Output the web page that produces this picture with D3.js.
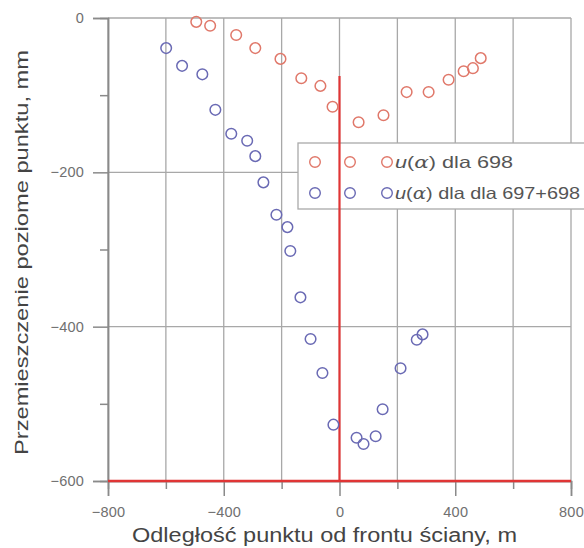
<!DOCTYPE html>
<html>
<head>
<meta charset="utf-8">
<script src="https://cdn.jsdelivr.net/npm/d3@7"></script>
<style>
  body { margin: 0; background: #fff; }
  svg { font-family: "Liberation Sans", Arial, sans-serif; }
</style>
</head>
<body>
<svg width="584" height="548"></svg>
<script>
// data
var xs698 = [-495, -447, -357, -291, -204, -132, -66, -24, 66, 152, 232, 308, 377, 429, 461, 488];
var ys698 = [-5, -10, -22, -39, -53, -78, -88, -115, -135, -126, -96, -96, -80, -69, -65, -52];
var xsBoth = [-599, -544, -474, -429, -374, -319, -291, -263, -218, -180, -170, -135, -100, -59, -21, 59, 83, 125, 149, 211, 267, 287];
var ysBoth = [-39, -62, -73, -119, -150, -159, -179, -213, -255, -271, -302, -362, -416, -460, -527, -544, -552, -542, -507, -454, -417, -410];
var xTicks = [-800, -400, 0, 400, 800];
var xMinor = [-600, -200, 200, 600];
var yTicks = [0, -200, -400, -600];
var yMinor = [-100, -300, -500];
var seriesNames = ["dla 698", "dla dla 697+698"];

var svg = d3.select("svg");
var margin = {top: 18, left: 108};
var width = 463, height = 463;

var x = d3.scaleLinear().domain([-800, 800]).range([0, width]);
var y = d3.scaleLinear().domain([-600, 0]).range([height, 0]);

var g = svg.append("g").attr("transform", "translate(" + margin.left + "," + margin.top + ")");

// grid
g.selectAll(".vgrid").data(xTicks.concat(xMinor)).enter().append("line")
  .attr("x1", function(d) { return x(d); }).attr("x2", function(d) { return x(d); })
  .attr("y1", 0).attr("y2", height)
  .attr("stroke", "#a8a8a8").attr("stroke-width", 1.3);
g.selectAll(".hgrid").data(yTicks).enter().append("line")
  .attr("x1", 0).attr("x2", width)
  .attr("y1", function(d) { return y(d); }).attr("y2", function(d) { return y(d); })
  .attr("stroke", "#a8a8a8").attr("stroke-width", 1.3);

// axes
g.append("g").attr("transform", "translate(0," + height + ")")
  .call(d3.axisBottom(x).tickValues(xTicks).tickSize(15).tickPadding(11).tickFormat(d3.format("d")));
g.append("g").attr("transform", "translate(0," + height + ")")
  .call(d3.axisBottom(x).tickValues(xMinor).tickSize(8).tickFormat(""));
g.append("g")
  .call(d3.axisLeft(y).tickValues(yTicks).tickSize(15).tickPadding(9).tickFormat(d3.format("d")));
g.append("g")
  .call(d3.axisLeft(y).tickValues(yMinor).tickSize(8).tickFormat(""));
g.selectAll(".domain").attr("stroke", "#8a8a8a").attr("stroke-width", 1.5);
g.selectAll(".tick line").attr("stroke", "#8a8a8a").attr("stroke-width", 1.5);
g.selectAll(".tick text").attr("fill", "#707070").attr("font-size", 14.5)
  .attr("font-family", "Liberation Sans, Arial, sans-serif").attr("letter-spacing", 0.2);

// legend box
var leg = g.append("g").attr("transform", "translate(" + (298 - margin.left) + "," + (143 - margin.top) + ")");
leg.append("rect").attr("width", 300).attr("height", 66)
  .attr("fill", "#fff").attr("stroke", "#aaa").attr("stroke-width", 1.3);

// red reference lines
g.append("line").attr("x1", x(0)).attr("x2", x(0)).attr("y1", y(-75)).attr("y2", y(-600))
  .attr("stroke", "#e03535").attr("stroke-width", 2.2);
g.append("line").attr("x1", 0).attr("x2", width).attr("y1", y(-600)).attr("y2", y(-600))
  .attr("stroke", "#e03535").attr("stroke-width", 2.5);

// points
var colors = ["#e0786a", "#6a6ab4"];
g.selectAll(".p698").data(d3.range(xs698.length)).enter().append("circle")
  .attr("cx", function(i) { return x(xs698[i]); }).attr("cy", function(i) { return y(ys698[i]); })
  .attr("r", 5.3).attr("fill", "none").attr("stroke", colors[0]).attr("stroke-width", 1.5);
g.selectAll(".pBoth").data(d3.range(xsBoth.length)).enter().append("circle")
  .attr("cx", function(i) { return x(xsBoth[i]); }).attr("cy", function(i) { return y(ysBoth[i]); })
  .attr("r", 5.3).attr("fill", "none").attr("stroke", colors[1]).attr("stroke-width", 1.5);

// legend entries
var legendWidths = [118, 185];
seriesNames.forEach(function(name, i) {
  var ry = 19 + i * 31;
  [17, 52, 89].forEach(function(cx) {
    leg.append("circle").attr("cx", cx).attr("cy", ry).attr("r", 5.3)
      .attr("fill", "none").attr("stroke", colors[i]).attr("stroke-width", 1.4);
  });
  var t = leg.append("text").attr("x", 97).attr("y", ry + 6)
    .attr("font-size", 16.5).attr("fill", "#555")
    .attr("textLength", legendWidths[i]).attr("lengthAdjust", "spacingAndGlyphs");
  t.append("tspan").attr("font-style", "italic").text("u");
  t.append("tspan").text("(");
  t.append("tspan").attr("font-family", "DejaVu Serif, serif").attr("font-style", "italic").text("α");
  t.append("tspan").text(") " + name);
});

// axis titles
svg.append("text").attr("x", 132).attr("y", 542)
  .attr("font-size", 20).attr("fill", "#444")
  .attr("textLength", 385).attr("lengthAdjust", "spacingAndGlyphs")
  .text("Odległość punktu od frontu ściany, m");
svg.append("text").attr("transform", "translate(28,455) rotate(-90)")
  .attr("font-size", 19).attr("fill", "#444")
  .attr("textLength", 405).attr("lengthAdjust", "spacingAndGlyphs")
  .text("Przemieszczenie poziome punktu, mm");
</script>
</body>
</html>
